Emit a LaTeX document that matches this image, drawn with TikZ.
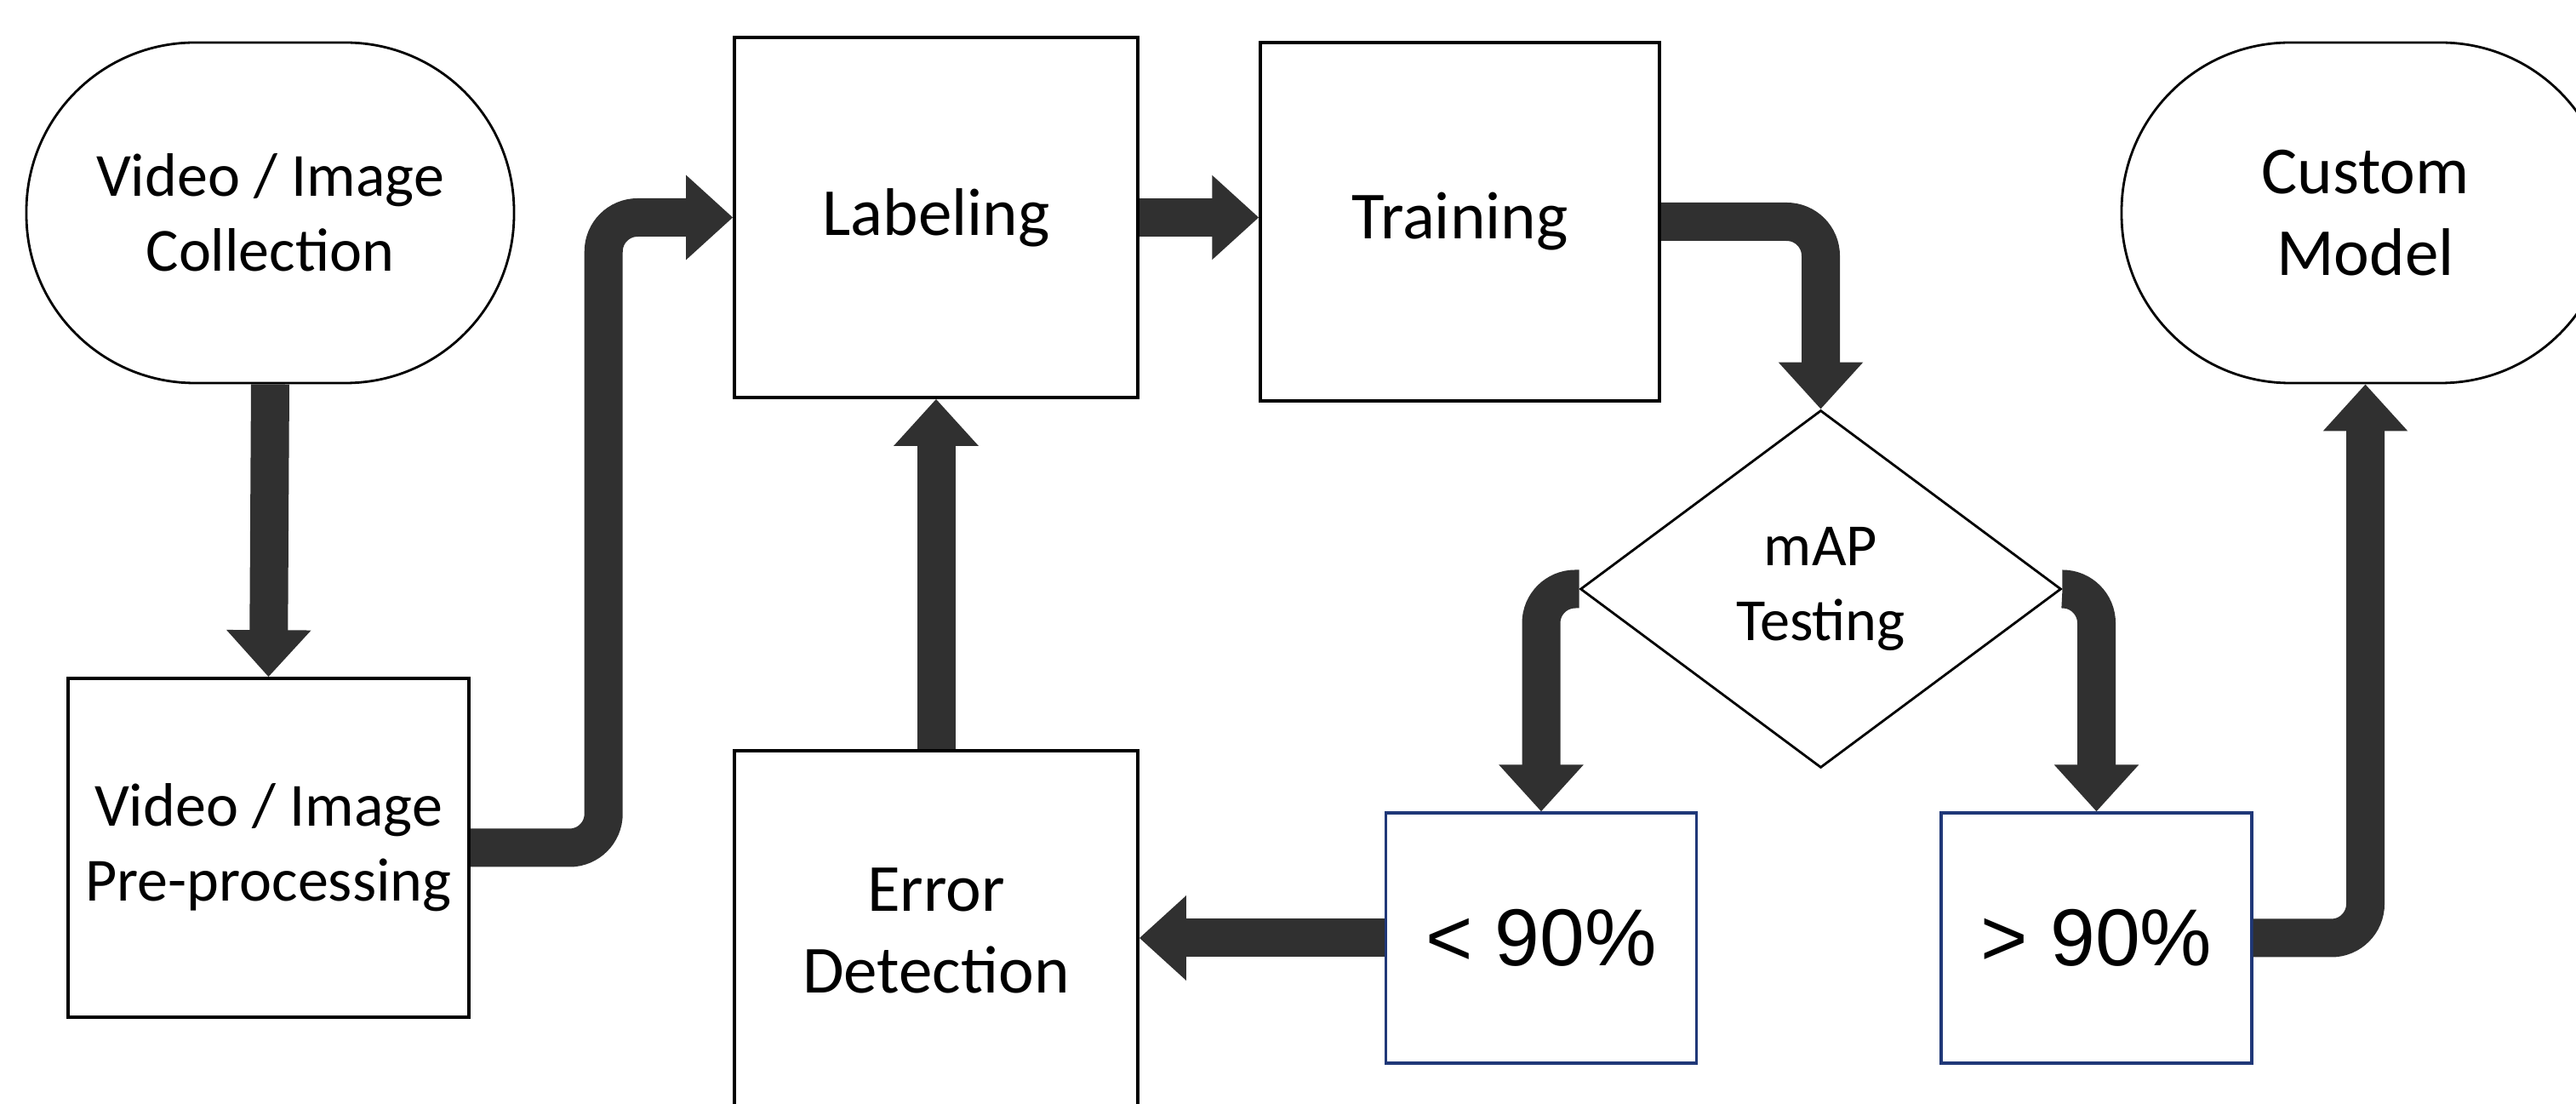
\documentclass[tikz,border=0pt]{standalone}
\usepackage{fontspec}
\setmainfont{Carlito}
\newfontfamily\pctfont{Liberation Sans}
\usepackage{xcolor}
\usepackage{tikz}
\usetikzlibrary{shapes.geometric, arrows.meta, positioning, calc}

\definecolor{flowgray}{RGB}{48,48,48}
\definecolor{navyline}{RGB}{32,56,120}

\begin{document}
\begin{tikzpicture}[
    font=\fontsize{20.5}{25}\selectfont,
    big/.style={font=\fontsize{22.5}{27.5}\selectfont},
    box/.style={rectangle, draw, line width=1pt, fill=white, align=center, inner sep=0pt},
    term/.style={rectangle, draw, line width=0.8pt, fill=white, align=center, rounded corners=1.98cm, minimum width=5.73cm, minimum height=4cm},
    decision/.style={diamond, draw, line width=0.8pt, fill=white, align=center, inner sep=0pt, aspect=1.35, minimum width=5.65cm, minimum height=4.2cm, font=\fontsize{20}{25}\selectfont},
    result/.style={rectangle, draw=navyline, line width=0.9pt, fill=white, minimum width=3.65cm, minimum height=2.94cm, font=\pctfont\fontsize{27}{32}\selectfont},
    flow/.style={-{Triangle[width=0.96cm, length=0.55cm]}, line width=0.45cm, draw=flowgray, rounded corners=0.4cm}
]
\useasboundingbox (0,0) rectangle (30.27,-12.97);

% Nodes
\node[term] (coll) at (3.175, -2.5) {Video / Image\\Collection};
\node[box, minimum width=4.71cm, minimum height=3.98cm] (pre) at (3.155, -9.96) {Video / Image\\Pre-processing};
\node[box, big, minimum width=4.74cm, minimum height=4.23cm] (lab) at (11.0, -2.555) {Labeling};
\node[box, big, minimum width=4.69cm, minimum height=4.21cm] (train) at (17.155, -2.605) {Training};
\node[decision] (test) at (21.395, -6.92) {mAP\\Testing};
\node[result] (low) at (18.11, -11.02) {< 90\%};
\node[result] (high) at (24.635, -11.02) {> 90\%};
\node[box, big, minimum width=4.74cm, minimum height=4.23cm] (err) at (11.0, -10.935) {Error\\Detection};
\node[term, big] (model) at (27.795, -2.5) {Custom\\Model};

% Arrows
\draw[flow] (coll.south) -- (pre.north);
\draw[flow] (pre.east) -| ([xshift=-1.52cm]lab.west) -- (lab.west);
\draw[flow] (lab.east) -- (lab.east -| train.west);
\draw[flow] (train.east) -| (test.north);
\draw[flow] (test.west) -| (low.north);
\draw[flow] (test.east) -| (high.north);
\draw[flow] (low.west) -- (low.west -| err.east);
\draw[flow] (err.north) -- (lab.south);
\draw[flow] (high.east) -| (model.south);

\end{tikzpicture}
\end{document}
